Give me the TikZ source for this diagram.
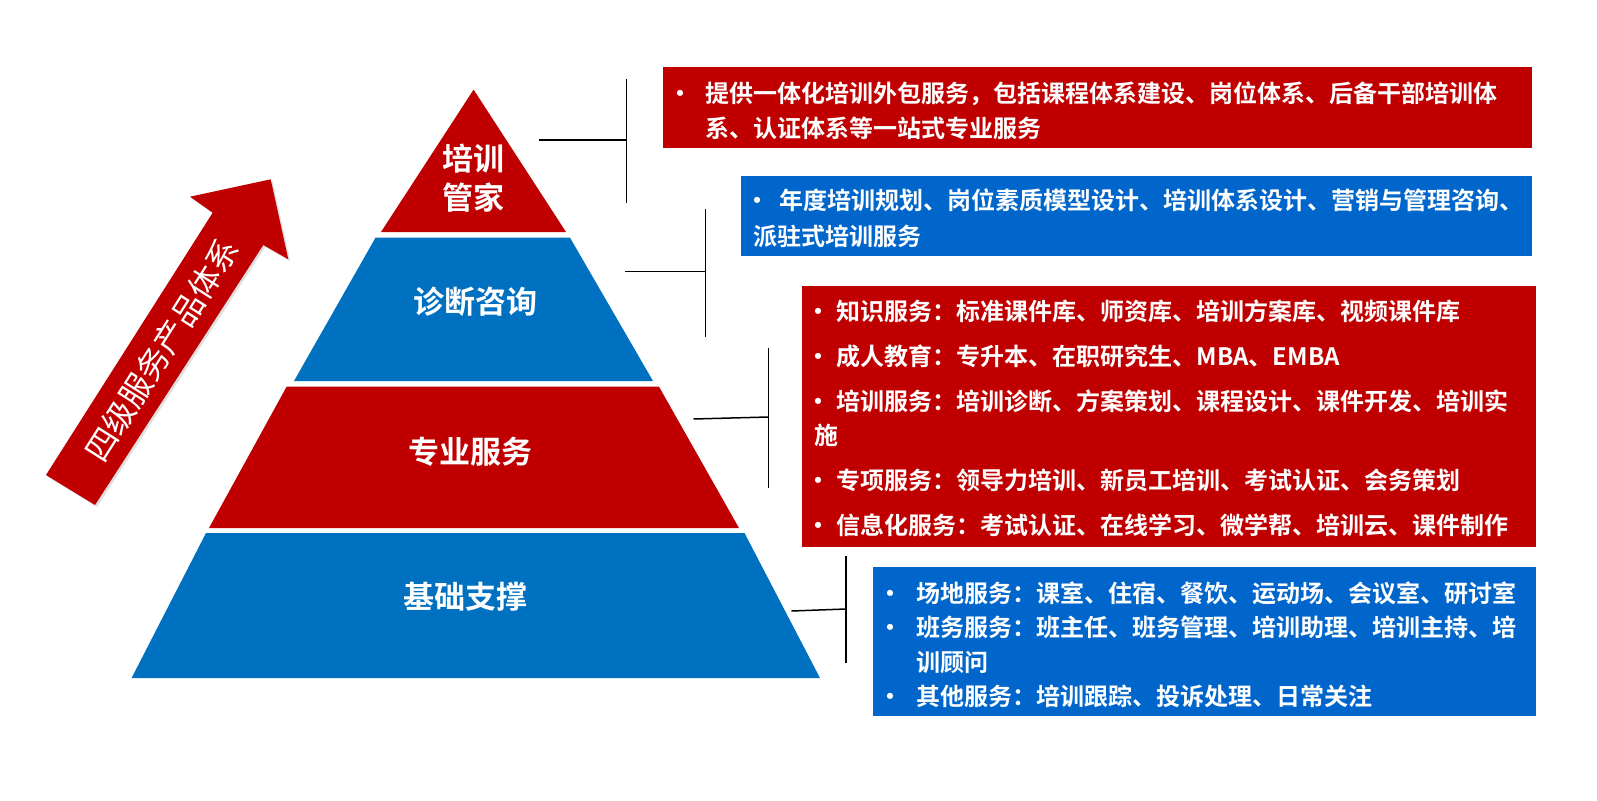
\documentclass[tikz,border=0pt]{standalone}
\usepackage{fontspec}
\setmainfont{Noto Sans CJK SC}[BoldFont={Noto Sans CJK SC Bold}]
\usepackage{tikz}
\usetikzlibrary{shadows}
\definecolor{tierred}{RGB}{192,0,0}
\definecolor{tierblue}{RGB}{0,112,192}
\definecolor{boxblue}{RGB}{0,102,204}
\newcommand{\bul}[1]{\makebox[#1][l]{\hspace*{-8pt}\textbullet}}

\begin{document}
\begin{tikzpicture}[x=1pt, y=-1pt,
  tierlabel/.style={text=white, font=\bfseries\fontsize{31}{39}\selectfont, align=center, inner sep=0pt},
  infobox/.style={anchor=north west, inner sep=0pt, outer sep=0pt},
  infotext/.style={anchor=base west, inner sep=0pt, text=white},
  bracket/.style={line width=1.5pt, black}]
  \useasboundingbox (0,0) rectangle (1597,800);

  % pyramid
  \fill[tierred] (473.6,89.6) -- (566,232) -- (381,232) -- cycle;
  \fill[tierblue] (375.5,237.7) -- (570,237.7) -- (653,381) -- (294,381) -- cycle;
  \fill[tierred] (286.6,386.7) -- (659,386.7) -- (739,528) -- (209,528) -- cycle;
  \fill[tierblue] (206,533) -- (744.5,533) -- (820,678) -- (131.6,678) -- cycle;
  \node[tierlabel] (lv1) at (473,178.5) {培训\\管家};
  \node[tierlabel] (lv2) at (475,302) {诊断咨询};
  \node[tierlabel] (lv3) at (470,452) {专业服务};
  \node[tierlabel] (lv4) at (465,597) {基础支撑};

  % arrow
  \fill[tierred, drop shadow={shadow xshift=2pt, shadow yshift=-2pt, opacity=0.25}]
    (46,475) -- (95,505) -- (263.3,245) -- (288.3,259.3) -- (270.7,179.3)
    -- (190,196.7) -- (212.7,212.7) -- cycle;
  \node[rotate=57.6, text=white, inner sep=0pt, font=\fontsize{32}{32}\selectfont] (uparrow) at (161.7,350) {四级服务产品体系};

  % boxes
  \node[infobox, fill=tierred, minimum width=869pt, minimum height=81pt] (box1) at (663,67) {};
  \node[infotext, font=\bfseries\fontsize{24}{35}\selectfont] (txt1) at (676,102) {\parbox[t]{860pt}{%
    \bul{29pt}提供一体化培训外包服务，包括课程体系建设、岗位体系、后备干部培训体\\
    \hspace*{29pt}系、认证体系等一站式专业服务}};

  \node[infobox, fill=boxblue, minimum width=791pt, minimum height=80pt] (box2) at (741,176) {};
  \node[infotext, font=\bfseries\fontsize{24}{35}\selectfont] (txt2) at (753,209) {\parbox[t]{780pt}{%
    \bul{26pt}年度培训规划、岗位素质模型设计、培训体系设计、营销与管理咨询、\\[1.7pt]
    派驻式培训服务}};

  \node[infobox, fill=tierred, minimum width=734pt, minimum height=261pt] (box3) at (802,286) {};
  \node[infotext, font=\bfseries\fontsize{24}{34}\selectfont] (txt3) at (814,320.7) {\parbox[t]{720pt}{%
    \bul{22.5pt}知识服务：标准课件库、师资库、培训方案库、视频课件库\\[10.5pt]
    \bul{22.5pt}成人教育：专升本、在职研究生、MBA、EMBA\\[11pt]
    \bul{22.5pt}培训服务：培训诊断、方案策划、课程设计、课件开发、培训实\\
    施\\[11pt]
    \bul{22.5pt}专项服务：领导力培训、新员工培训、考试认证、会务策划\\[11pt]
    \bul{22.5pt}信息化服务：考试认证、在线学习、微学帮、培训云、课件制作}};

  \node[infobox, fill=boxblue, minimum width=663pt, minimum height=149pt] (box4) at (873,567) {};
  \node[infotext, font=\bfseries\fontsize{24}{34.5}\selectfont] (txt4) at (886.5,602.3) {\parbox[t]{650pt}{%
    \bul{29.5pt}场地服务：课室、住宿、餐饮、运动场、会议室、研讨室\\
    \bul{29.5pt}班务服务：班主任、班务管理、培训助理、培训主持、培\\
    \hspace*{29.5pt}训顾问\\
    \bul{29.5pt}其他服务：培训跟踪、投诉处理、日常关注}};

  % brackets
  \coordinate (k1w) at (539,140);
  \coordinate (k1e) at (626.5,140);
  \coordinate (k1n) at (626.5,79);
  \coordinate (k1s) at (626.5,203);
  \draw[bracket] (k1w) -- (k1e);
  \draw[bracket] (k1n) -- (k1s);

  \coordinate (k2w) at (625,271.7);
  \coordinate (k2e) at (705.5,271.7);
  \coordinate (k2n) at (705.5,209);
  \coordinate (k2s) at (705.5,337);
  \draw[bracket] (k2w) -- (k2e);
  \draw[bracket] (k2n) -- (k2s);

  \coordinate (k3w) at (693.5,419);
  \coordinate (k3e) at (768.5,417);
  \coordinate (k3n) at (768.5,348);
  \coordinate (k3s) at (768.5,488);
  \draw[bracket] (k3w) -- (k3e);
  \draw[bracket] (k3n) -- (k3s);

  \coordinate (k4w) at (791.5,611);
  \coordinate (k4e) at (846,609);
  \coordinate (k4n) at (846,556);
  \coordinate (k4s) at (846,663);
  \draw[bracket] (k4w) -- (k4e);
  \draw[bracket] (k4n) -- (k4s);
\end{tikzpicture}
\end{document}
